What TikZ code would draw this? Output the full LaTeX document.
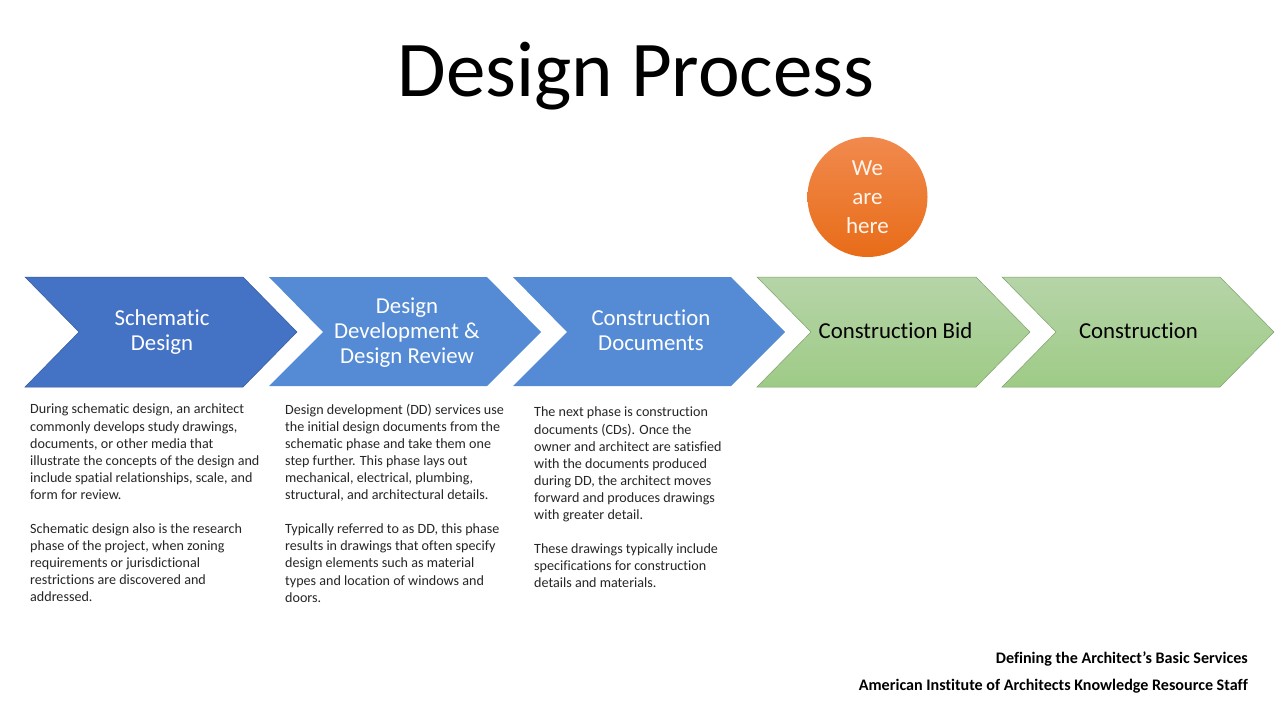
\documentclass[tikz,border=0pt]{standalone}
\usepackage{fontspec}
\setmainfont[RawFeature={-liga;-clig}]{Carlito}
\definecolor{blueA}{RGB}{68,114,196}
\definecolor{blueB}{RGB}{84,139,212}
\definecolor{gTop}{RGB}{182,212,168}
\definecolor{gBot}{RGB}{158,203,134}
\definecolor{oTop}{RGB}{241,138,78}
\definecolor{oBot}{RGB}{232,108,24}
\tikzset{x=1pt,y=-1pt,
  chevA/.style={fill=blueA,draw=blueA!80!black,line width=.5pt},
  chevB/.style={fill=blueB},
  chevG/.style={top color=gTop,bottom color=gBot,draw=gBot!80!black,line width=.5pt},
  chevlabel/.style={text=white,font=\fontsize{22.8}{25}\selectfont,align=center,inner sep=0pt},
  bidlabel/.style={text=black,font=\fontsize{22.8}{25}\selectfont,align=center,inner sep=0pt},
  body/.style={anchor=north west,align=left,inner sep=0pt,text=black!85,font=\fontsize{14.1}{17.05}\selectfont},
  credit/.style={anchor=base east,inner sep=0pt,font=\bfseries\fontsize{16.1}{17}\selectfont},
}
\begin{document}
\begin{tikzpicture}
\useasboundingbox (0,0) rectangle (1280,720);
\fill[white] (0,0) rectangle (1280,720);
\node[inner sep=0pt,font=\fontsize{79}{90}\selectfont,text=black] (title) at (636,76) {Design Process};
% chevrons
\fill[chevA] (25,277) -- (243,277) -- (297,332) -- (243,387) -- (25,387) -- (79,332) -- cycle;
\fill[chevB] (269,277) -- (487,277) -- (541,332) -- (487,386) -- (269,386) -- (323,332) -- cycle;
\fill[chevB] (513,277) -- (731,277) -- (785,332) -- (731,386) -- (513,386) -- (567,332) -- cycle;
\draw[chevG] (757,277) -- (976,277) -- (1030,332) -- (976,387) -- (757,387) -- (811,332) -- cycle;
\draw[chevG] (1002,277) -- (1220,277) -- (1274,332) -- (1220,387) -- (1002,387) -- (1056,332) -- cycle;
\node[chevlabel] (n1) at (162,332) {Schematic\\Design};
\node[chevlabel] (n2) at (407,332.5) {Design\\Development \&\\Design Review};
\node[chevlabel] (n3) at (651,330) {Construction\\Documents};
\node[bidlabel] (n4) at (895.5,331) {Construction Bid};
\node[bidlabel] (n5) at (1138.5,331) {Construction};
% circle
\node[circle,minimum size=120pt,inner sep=0pt,top color=oTop,bottom color=oBot,draw=none,text=white!92!orange,align=center,
  font=\fontsize{23}{29}\selectfont] (here) at (867.5,197) {We\\are\\here};
% body text
\node[body] (t1) at (30,404) {During schematic design, an architect\\commonly develops study drawings,\\documents, or other media that\\illustrate the concepts of the design and\\include spatial relationships, scale, and\\form for review.\\[17.05pt]Schematic design also is the research\\phase of the project, when zoning\\requirements or jurisdictional\\restrictions are discovered and\\addressed.};
\node[body] (t2) at (285,404) {Design development (DD) services use\\the initial design documents from the\\schematic phase and take them one\\step further. This phase lays out\\mechanical, electrical, plumbing,\\structural, and architectural details.\\[17.05pt]Typically referred to as DD, this phase\\results in drawings that often specify\\design elements such as material\\types and location of windows and\\doors.};
\node[body] (t3) at (534,407) {The next phase is construction\\documents (CDs). Once the\\owner and architect are satisfied\\with the documents produced\\during DD, the architect moves\\forward and produces drawings\\with greater detail.\\[17.05pt]These drawings typically include\\specifications for construction\\details and materials.};
\node[credit] (c1) at (1248,663) {Defining the Architect’s Basic Services};
\node[credit] (c2) at (1248,690) {American Institute of Architects Knowledge Resource Staff};
\end{tikzpicture}
\end{document}
